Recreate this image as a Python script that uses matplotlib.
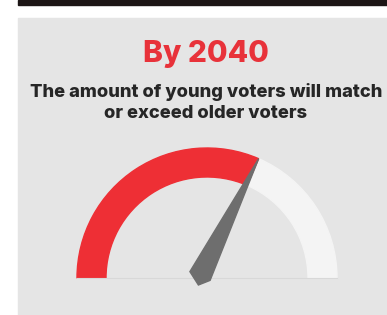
import numpy as np
import matplotlib.pyplot as plt
from matplotlib.patches import Wedge, Rectangle, Polygon

# Data
title = 'By 2040'
subtitle = ['The amount of young voters will match', 'or exceed older voters']
gauge_value = 63.0
gauge_max = 100.0

W, H = 387, 315
fig = plt.figure(figsize=(W / 100, H / 100), dpi=100)
ax = fig.add_axes([0, 0, 1, 1])
ax.set_xlim(0, W)
ax.set_ylim(0, H)
ax.axis('off')


def py(y):
    # pixel row (from top) -> data y
    return H - y


# background pieces
ax.add_patch(Rectangle((18, py(5)), W - 18, 5, color='#1c1515', zorder=0))
ax.add_patch(Rectangle((18, 0), W - 18, py(18), color='#e5e5e5', zorder=0))

fam = ['Inter', 'DejaVu Sans']
ax.text(206, py(54), title, color='#e8323a', fontsize=21.5, fontweight='heavy',
        ha='center', va='center', family=fam)
ax.text(206, py(92), subtitle[0], color='#262626', fontsize=13.2, fontweight='heavy',
        ha='center', va='center', family=fam)
ax.text(206, py(114), subtitle[1], color='#262626', fontsize=13.2, fontweight='heavy',
        ha='center', va='center', family=fam)

# gauge
cx, cy = 207, py(278)
r_out, width = 130, 29
split = 180 - 180 * gauge_value / gauge_max
ax.add_patch(Wedge((cx, cy), r_out, 0, split, width=width, color='#f4f4f4', zorder=1))
ax.add_patch(Wedge((cx, cy), r_out, split, 180, width=width, color='#ee2f35', zorder=1))
ax.plot([cx - r_out, cx + r_out], [cy, cy], color='#d8d8d8', lw=0.8, zorder=1)

# needle
a = np.radians(split)
tip = (cx + r_out * np.cos(a), cy + r_out * np.sin(a))
bx, by = 200, py(276)
perp = np.array([np.sin(a), -np.cos(a)])
half = 11
needle = [tip,
          (bx + perp[0] * half, by + perp[1] * half),
          (bx - 4 * np.cos(a), by - 9),
          (bx - perp[0] * half, by - perp[1] * half)]
ax.add_patch(Polygon(needle, closed=True, color='#6e6e6e', zorder=3))

fig.savefig('out.png', dpi=100)
